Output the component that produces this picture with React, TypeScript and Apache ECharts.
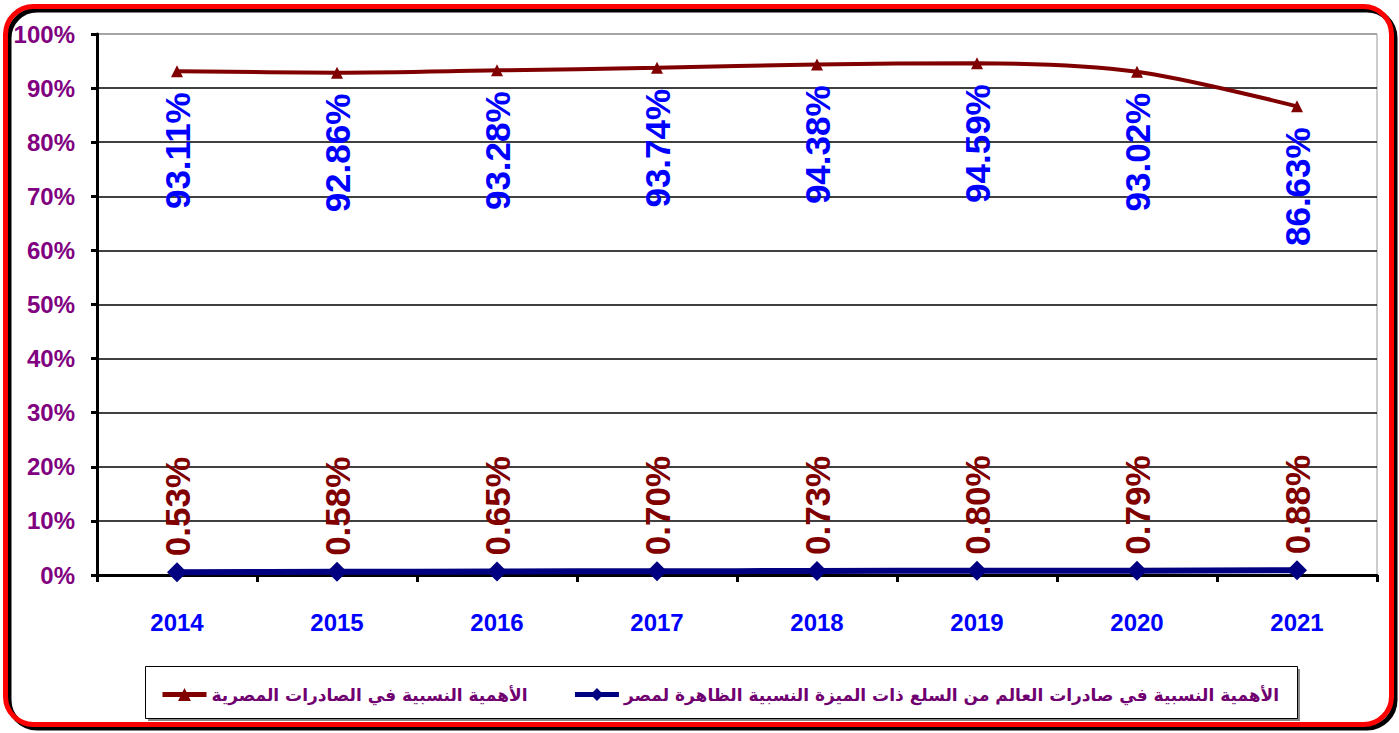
import React, { useEffect, useRef } from "react";
import * as echarts from "echarts";

const years = ["2014", "2015", "2016", "2017", "2018", "2019", "2020", "2021"];
const egyptShare = [93.11, 92.86, 93.28, 93.74, 94.38, 94.59, 93.02, 86.63];
const worldShare = [0.53, 0.58, 0.65, 0.7, 0.73, 0.8, 0.79, 0.88];
const nameEgypt = "الأهمية النسبية في الصادرات المصرية";
const nameWorld = "الأهمية النسبية في صادرات العالم من السلع ذات الميزة النسبية الظاهرة لمصر";

export default function App() {
  const ref = useRef<HTMLDivElement>(null);
  useEffect(() => {
    if (!ref.current) return;
    const chart = echarts.init(ref.current, null, { renderer: "svg" });
    const font = "'Liberation Sans', Arial, 'DejaVu Sans', sans-serif";
    const splitColors = ["#000", "#000", "#000", "#000", "#000", "#000", "#000", "#000", "#000", "#000", "#999"];
    chart.setOption({
      animation: false,
      backgroundColor: "#fff",
      textStyle: { fontFamily: font },
      grid: {
        left: 97,
        right: 22,
        top: 34,
        bottom: 158,
        show: true,
        borderColor: "#999",
        borderWidth: 1,
        backgroundColor: "transparent",
      },
      graphic: [
        {
          type: "rect",
          z: -10,
          shape: { x: 9, y: 10, width: 1386, height: 718, r: 28 },
          style: { fill: "none", stroke: "#000", lineWidth: 5 },
        },
        {
          type: "rect",
          z: -9,
          shape: { x: 5.5, y: 6.5, width: 1386, height: 718, r: 28 },
          style: { fill: "none", stroke: "#ff0000", lineWidth: 5 },
        },
        {
          type: "rect",
          z: -8,
          shape: { x: 148, y: 669, width: 1152, height: 52 },
          style: { fill: "#888", stroke: "none" },
        },
        {
          type: "rect",
          z: -7,
          shape: { x: 145.5, y: 666.5, width: 1152, height: 52 },
          style: { fill: "#fff", stroke: "#000", lineWidth: 1 },
        },
      ],
      legend: {
        left: 155,
        top: 681,
        width: 1200,
        itemGap: 45,
        itemWidth: 44,
        itemHeight: 16,
        lineStyle: { width: 5 },
        data: [nameEgypt, nameWorld],
        textStyle: {
          color: "#700070",
          fontSize: 17,
          fontWeight: "bold",
          fontFamily: "'DejaVu Sans', 'Liberation Sans', sans-serif",
        },
      },
      xAxis: {
        type: "category",
        data: years,
        boundaryGap: true,
        axisLine: { lineStyle: { color: "#000", width: 3 } },
        axisTick: { show: true, length: 7, lineStyle: { color: "#000", width: 3 } },
        axisLabel: { color: "#0000ff", fontSize: 24, fontWeight: "bold", margin: 35 },
      },
      yAxis: {
        type: "value",
        min: 0,
        max: 100,
        interval: 10,
        axisLine: { show: true, lineStyle: { color: "#000", width: 3 } },
        axisTick: { show: true, length: 6, lineStyle: { color: "#000", width: 3 } },
        axisLabel: {
          color: "#800080",
          fontSize: 24,
          fontWeight: "bold",
          margin: 22,
          formatter: "{value}%",
        },
        splitLine: { show: true, lineStyle: { color: splitColors, width: 1.5 } },
      },
      series: [
        {
          name: nameEgypt,
          type: "line",
          data: egyptShare,
          smooth: 0.3,
          symbol: "triangle",
          symbolSize: 12,
          color: "#800000",
          lineStyle: { color: "#800000", width: 4 },
          itemStyle: { color: "#800000" },
          label: {
            show: true,
            position: "bottom",
            distance: 15,
            rotate: 90,
            align: "right",
            verticalAlign: "middle",
            color: "#0000ff",
            fontSize: 35,
            fontWeight: "bold",
            formatter: (p: any) => p.value.toFixed(2) + "%",
          },
        },
        {
          name: nameWorld,
          type: "line",
          data: worldShare,
          smooth: 0.3,
          symbol: "diamond",
          symbolSize: 20,
          color: "#000080",
          lineStyle: { color: "#000080", width: 6 },
          itemStyle: { color: "#000080" },
          label: {
            show: true,
            position: "top",
            distance: 6,
            rotate: 90,
            align: "left",
            verticalAlign: "middle",
            color: "#800000",
            fontSize: 35,
            fontWeight: "bold",
            formatter: (p: any) => p.value.toFixed(2) + "%",
          },
        },
      ],
    });
    return () => chart.dispose();
  }, []);
  return (
    <div
      ref={ref}
      style={{ position: "fixed", left: 0, top: 0, width: 1399, height: 733 }}
    />
  );
}
